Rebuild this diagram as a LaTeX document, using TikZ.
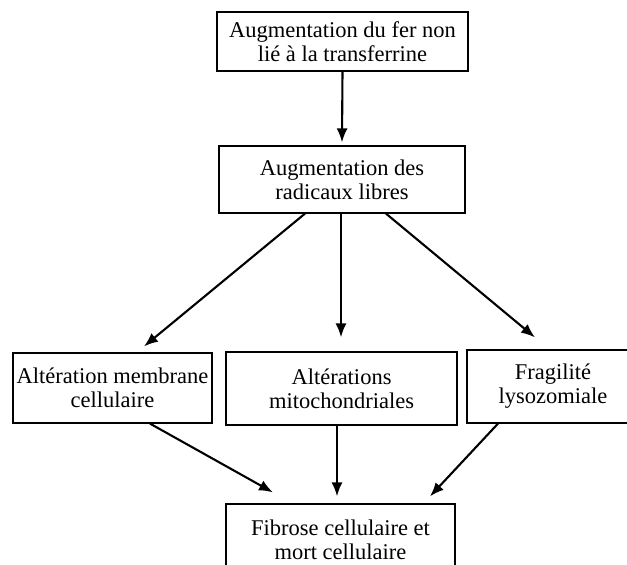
\documentclass[tikz,border=0pt]{standalone}
\usepackage{fontspec}
\setmainfont{Liberation Serif}
\usetikzlibrary{arrows.meta}

\begin{document}
\begin{tikzpicture}[x=1pt,y=-1pt,
 boite/.style={draw,line width=1.2pt,inner sep=0pt,align=center,font=\fontsize{22.5}{24}\selectfont},
 fleche/.style={-{Latex[length=14pt,width=11pt]},line width=2.1pt}]
 \useasboundingbox (0,0) rectangle (627,565);
 \clip (0,0) rectangle (627,565);
 \node[boite,minimum width=251pt,minimum height=59pt] (fer) at (342.5,41.5) {Augmentation du fer non\\lié à la transferrine};
 \node[boite,minimum width=246pt,minimum height=67pt] (radicaux) at (342,179.5) {Augmentation des\\radicaux libres};
 \node[boite,minimum width=199pt,minimum height=70pt] (membrane) at (112.5,388) {Altération membrane\\cellulaire};
 \node[boite,minimum width=231pt,minimum height=73pt] (mito) at (341.5,388.5) {Altérations\\mitochondriales};
 \node[boite,minimum width=172pt,minimum height=73pt] (lyso) at (553,386.5) {Fragilité\\lysozomiale};
 \node[boite,minimum width=229pt,minimum height=71pt] (fibrose) at (340.5,539.5) {Fibrose cellulaire et\\mort cellulaire};
 % fleches
 \draw[fleche] (fer.south) -- ([yshift=3pt]radicaux.north);
 \draw[fleche] ([xshift=-37pt]radicaux.south) -- ([xshift=31.5pt,yshift=6pt]membrane.north);
 \draw[fleche] ([xshift=-1pt]radicaux.south) -- ([xshift=-0.5pt,yshift=14pt]mito.north);
 \draw[fleche] ([xshift=44pt]radicaux.south) -- ([xshift=-18pt,yshift=12pt]lyso.north);
 \draw[fleche] ([xshift=37.5pt]membrane.south) -- ([xshift=-67.5pt,yshift=11pt]fibrose.north);
 \draw[fleche] ([xshift=-4.5pt]mito.south) -- ([xshift=-3.5pt,yshift=7pt]fibrose.north);
 \draw[fleche] ([xshift=-55pt]lyso.south) -- ([xshift=89.5pt,yshift=7pt]fibrose.north);
\end{tikzpicture}
\end{document}
